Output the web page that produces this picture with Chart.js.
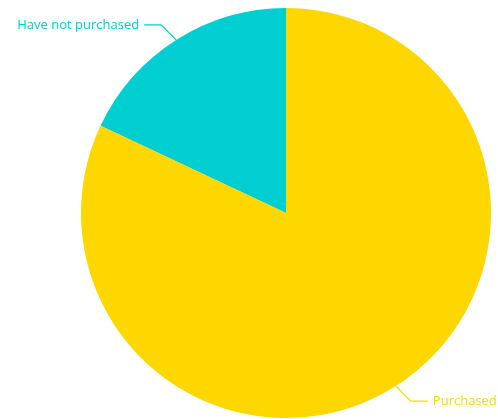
<!DOCTYPE html>
<html>
<head>
<meta charset="utf-8">
<script src="https://cdn.jsdelivr.net/npm/chart.js@4/dist/chart.umd.min.js"></script>
<style>
  html, body { margin: 0; padding: 0; background: #ffffff; }
  #wrap { width: 498px; height: 419px; position: relative; }
</style>
</head>
<body>
<div id="wrap"><canvas id="chart"></canvas></div>
<script>
// Survey split: share of respondents who have / have not purchased
const categories = ['Have not purchased', 'Purchased'];
const shares = [18, 82];
const sliceColors = ['#00CED1', '#FFD700'];

// Draws each slice's name outside the pie with an elbow leader line
const outsideLabels = {
  id: 'outsideLabels',
  afterDatasetsDraw(chart) {
    const ctx = chart.ctx;
    const meta = chart.getDatasetMeta(0);
    ctx.save();
    ctx.font = '13px "Open Sans", "Noto Sans", sans-serif';
    ctx.textBaseline = 'middle';
    ctx.lineWidth = 1.3;
    meta.data.forEach((arc, i) => {
      const p = arc.getProps(['x', 'y', 'startAngle', 'endAngle', 'outerRadius'], true);
      const mid = (p.startAngle + p.endAngle) / 2;
      const sx = p.x + Math.cos(mid) * p.outerRadius;
      const sy = p.y + Math.sin(mid) * p.outerRadius;
      const dirX = Math.cos(mid) >= 0 ? 1 : -1;
      const dirY = Math.sin(mid) >= 0 ? 1 : -1;
      const ex = sx + dirX * 15;
      const ey = sy + dirY * 15;
      const hx = ex + dirX * 17;
      const color = sliceColors[i];
      ctx.strokeStyle = color;
      ctx.beginPath();
      ctx.moveTo(sx, sy);
      ctx.lineTo(ex, ey);
      ctx.lineTo(hx, ey);
      ctx.stroke();
      ctx.fillStyle = color;
      ctx.textAlign = dirX > 0 ? 'left' : 'right';
      ctx.fillText(categories[i], hx + dirX * 5, ey);
    });
    ctx.restore();
  }
};

new Chart(document.getElementById('chart'), {
  type: 'pie',
  data: {
    labels: categories,
    datasets: [{
      data: shares,
      backgroundColor: sliceColors,
      borderWidth: 0,
      hoverOffset: 0
    }]
  },
  options: {
    responsive: true,
    maintainAspectRatio: false,
    animation: false,
    rotation: -64.8,
    layout: { padding: { left: 81, right: 7, top: 8, bottom: 1 } },
    plugins: {
      legend: { display: false },
      tooltip: { enabled: false }
    }
  },
  plugins: [outsideLabels]
});
</script>
</body>
</html>
